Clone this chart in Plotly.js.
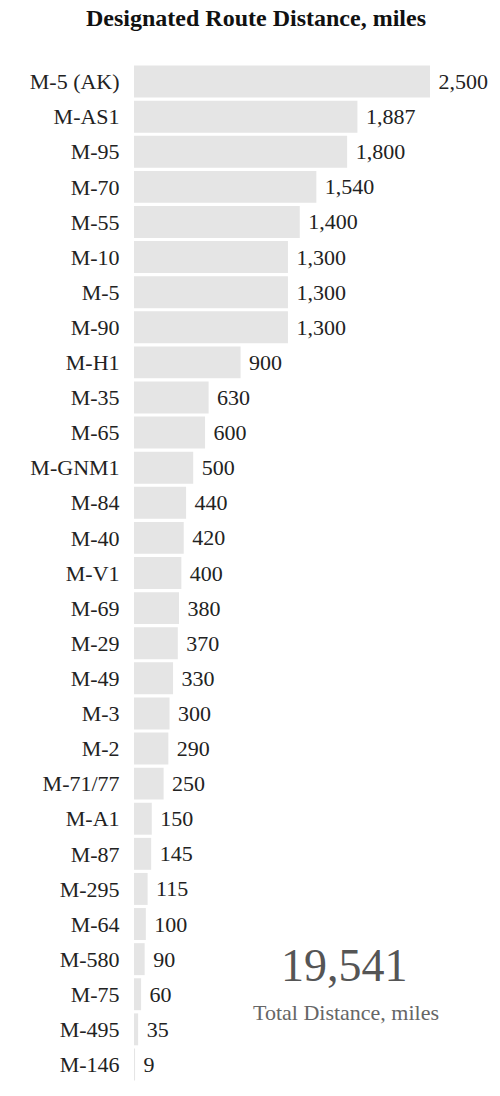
<!DOCTYPE html>
<html>
<head>
<meta charset="utf-8">
<script src="https://cdn.plot.ly/plotly-3.0.1.min.js"></script>
<style>
html,body{margin:0;padding:0;background:#fff;}
#chart{width:500px;height:1096px;}
</style>
</head>
<body>
<div id="chart"></div>
<script>
const routes = ["M-5 (AK)","M-AS1","M-95","M-70","M-55","M-10","M-5","M-90","M-H1","M-35","M-65","M-GNM1","M-84","M-40","M-V1","M-69","M-29","M-49","M-3","M-2","M-71/77","M-A1","M-87","M-295","M-64","M-580","M-75","M-495","M-146"];
const miles = [2500,1887,1800,1540,1400,1300,1300,1300,900,630,600,500,440,420,400,380,370,330,300,290,250,150,145,115,100,90,60,35,9];
const chartTitle = "Designated Route Distance, miles";
const totalLabel = "Total Distance, miles";

const total = miles.reduce((a,b)=>a+b,0);
const serif = "Liberation Serif, Times New Roman, serif";

const trace = {
  type: "bar",
  orientation: "h",
  y: routes,
  x: miles,
  marker: {color: "#e5e5e5"},
  text: miles.map(v => "\u00a0" + v.toLocaleString("en-US")),
  texttemplate: "%{text}",
  textposition: "outside",
  cliponaxis: false,
  textfont: {family: serif, size: 22, color: "#222"},
  hoverinfo: "skip"
};

const layout = {
  width: 500,
  height: 1096,
  margin: {l: 134, r: 0, t: 64, b: 14},
  paper_bgcolor: "#fff",
  plot_bgcolor: "#fff",
  showlegend: false,
  bargap: 0.09,
  title: {text: "<b>" + chartTitle + "</b>", x: 0.512, xanchor: "center", y: 0.992, yanchor: "top",
          font: {family: serif, size: 24, color: "#111"}},
  xaxis: {range: [0, 3091], visible: false, fixedrange: true},
  yaxis: {autorange: "reversed", showgrid: false, zeroline: false, showline: false,
          ticks: "outside", ticklen: 9, tickcolor: "rgba(0,0,0,0)",
          tickfont: {family: serif, size: 22, color: "#222"}, fixedrange: true},
  annotations: [
    {xref: "paper", yref: "paper", x: 0.575, y: 0.114, xanchor: "center", yanchor: "middle",
     text: total.toLocaleString("en-US"), showarrow: false,
     font: {family: serif, size: 46, color: "#555"}},
    {xref: "paper", yref: "paper", x: 0.58, y: 0.068, xanchor: "center", yanchor: "middle",
     text: totalLabel, showarrow: false,
     font: {family: serif, size: 22, color: "#666"}}
  ]
};

Plotly.newPlot("chart", [trace], layout, {displayModeBar: false, staticPlot: true});
</script>
</body>
</html>
